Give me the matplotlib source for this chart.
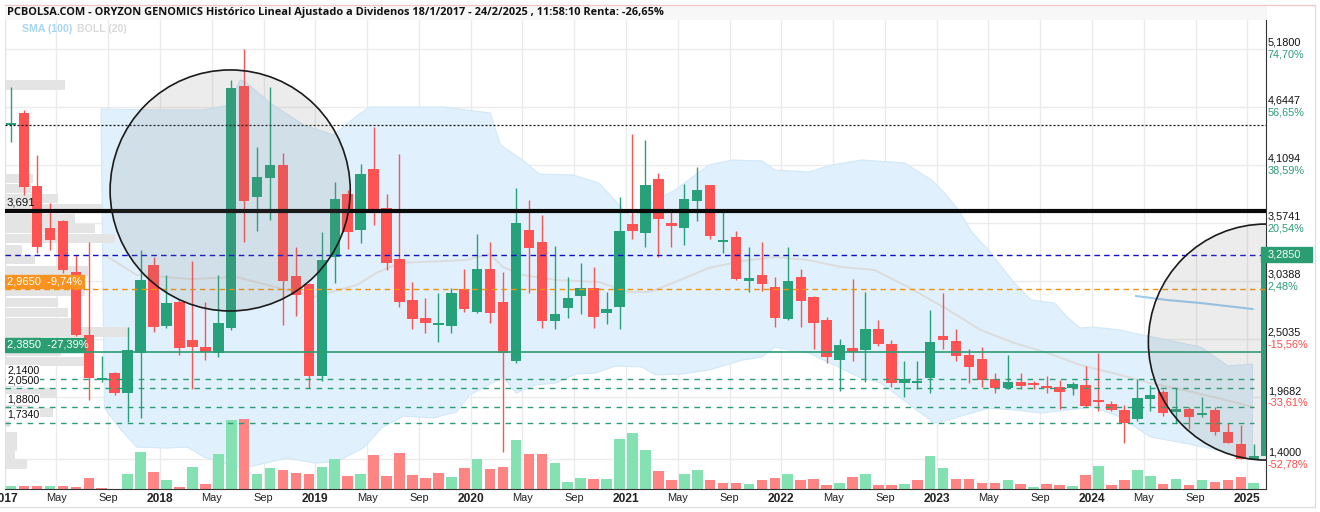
import numpy as np
import matplotlib.pyplot as plt
from matplotlib.patches import Rectangle, Ellipse
from matplotlib.transforms import blended_transform_factory

plt.rcParams['font.family'] = ['Liberation Sans', 'DejaVu Sans']

# monthly candles, Jan 2017 .. Feb 2025 (the last one is cut by the price axis)
opens = [4.48, 4.595, 3.921, 3.531, 3.595, 3.127, 2.546, 2.13, 2.190, 2.005,
         2.374, 3.189, 2.626, 2.850, 2.497, 2.435, 2.374, 2.605, 4.844, 3.819,
         3.995, 4.112, 3.088, 3.014, 2.168, 3.266, 3.844, 3.512, 4.075, 3.718,
         3.245, 2.866, 2.700, 2.640, 2.629, 2.965, 2.755, 3.149, 2.848, 2.306,
         3.512, 3.399, 2.675, 2.795, 2.906, 2.974, 2.749, 2.799, 3.568, 3.487,
         3.983, 3.574, 3.533, 3.783, 3.928, 3.40, 3.451, 3.042, 3.097, 2.989,
         2.694, 3.081, 2.894, 2.681, 2.312, 2.426, 2.405, 2.598, 2.460, 2.103,
         2.097, 2.149, 2.534, 2.488, 2.356, 2.321, 2.134, 2.051, 2.109, 2.103,
         2.075, 2.066, 2.051, 2.081, 1.934, 1.906, 1.848, 1.768, 1.955, 2.020,
         1.835, 1.860, 1.805, 1.851, 1.645, 1.537, 1.400, 1.43]
highs = [4.835, 4.62, 4.204, 3.759, 3.60, 3.285, 3.404, 2.349, 2.20, 2.614,
         3.328, 3.266, 3.097, 2.866, 3.229, 2.850, 3.097, 4.897, 5.180, 4.281,
         4.835, 4.220, 3.358, 3.020, 3.497, 3.952, 3.881, 4.121, 4.466, 3.844,
         4.214, 3.035, 2.882, 2.928, 2.974, 3.149, 3.472, 3.399, 3.124, 3.897,
         3.789, 3.650, 3.364, 3.078, 3.205, 3.174, 2.940, 3.814, 4.398, 4.343,
         4.036, 3.687, 3.937, 4.096, 3.930, 3.69, 3.503, 3.358, 3.399, 3.081,
         3.358, 3.152, 2.900, 2.709, 2.506, 3.057, 2.937, 2.681, 2.497, 2.303,
         2.303, 2.774, 2.931, 2.596, 2.414, 2.430, 2.190, 2.356, 2.190, 2.118,
         2.167, 2.128, 2.110, 2.257, 2.380, 1.934, 1.894, 2.137, 2.081, 2.035,
         2.057, 1.880, 1.968, 1.876, 1.728, 1.712, 1.537, 3.285]
lows = [4.327, 3.835, 3.302, 3.327, 3.115, 2.530, 1.943, 2.112, 1.990, 1.743,
        1.780, 2.574, 2.605, 2.358, 2.042, 2.312, 2.343, 2.589, 3.399, 3.506,
        3.604, 2.635, 2.717, 2.057, 2.122, 3.026, 3.334, 3.395, 3.558, 3.143,
        2.799, 2.598, 2.558, 2.475, 2.558, 2.758, 2.749, 2.651, 1.466, 2.282,
        2.933, 2.610, 2.601, 2.697, 2.734, 2.610, 2.644, 2.601, 3.426, 3.358,
        3.266, 3.358, 3.374, 3.598, 3.426, 3.297, 3.050, 2.943, 2.952, 2.619,
        2.681, 2.619, 2.417, 2.287, 2.029, 2.306, 2.112, 2.444, 2.066, 1.973,
        2.042, 2.005, 2.417, 2.306, 2.097, 2.066, 2.010, 2.047, 2.047, 2.042,
        2.005, 1.857, 1.989, 1.881, 1.844, 1.840, 1.549, 1.752, 1.844, 1.798,
        1.728, 1.675, 1.789, 1.620, 1.543, 1.397, 1.397, 1.42]
closes = [4.50, 3.906, 3.352, 3.420, 3.143, 2.541, 2.149, 2.14, 2.010, 2.405,
          3.050, 2.620, 2.841, 2.420, 2.435, 2.389, 2.656, 4.826, 3.780, 4.004,
          4.112, 3.044, 2.912, 2.168, 3.235, 3.799, 3.496, 4.029, 3.681, 3.210,
          2.850, 2.691, 2.657, 2.649, 2.933, 2.786, 3.149, 2.749, 2.374, 3.574,
          3.349, 2.675, 2.737, 2.884, 2.977, 2.712, 2.783, 3.503, 3.506, 3.928,
          3.614, 3.552, 3.798, 3.881, 3.460, 3.42, 3.060, 3.065, 3.014, 2.703,
          3.042, 2.859, 2.657, 2.343, 2.450, 2.383, 2.598, 2.460, 2.103, 2.134,
          2.118, 2.481, 2.500, 2.352, 2.245, 2.125, 2.051, 2.106, 2.072, 2.081,
          2.051, 2.017, 2.091, 1.890, 1.925, 1.851, 1.728, 1.959, 1.989, 1.826,
          1.860, 1.789, 1.820, 1.651, 1.549, 1.400, 1.428, 3.285]
volumes = [30, 30, 30, 30, 30, 23, 110, 10, 3, 150,
           370, 170, 90, 23, 223, 50, 350, 693, 700, 150,
           213, 190, 160, 150, 223, 303, 133, 150, 343, 133,
           360, 140, 110, 163, 120, 213, 303, 203, 223, 493,
           353, 353, 263, 73, 113, 103, 103, 503, 563, 393,
           183, 87, 153, 193, 93, 63, 63, 50, 87, 110,
           153, 87, 103, 43, 63, 123, 153, 43, 43, 53,
           93, 327, 213, 103, 103, 63, 63, 93, 53, 20,
           53, 43, 33, 143, 233, 43, 87, 187, 133, 53,
           103, 43, 93, 73, 93, 123, 63, 0]
first_year = 2017

# indicators (x = candle index)
boll_up_x = [6.95, 11.0, 14.9, 16.8, 17.7, 18.2, 20.0, 22.6, 24.9, 26.8, 27.7, 33.4, 37.0, 37.8,
             39.5, 40.8, 43.4, 45.4, 47.4, 48.0, 49.8, 51.3, 53.9, 55.7, 58.0, 59.0, 61.6, 63.4,
             65.7, 69.0, 71.1, 72.1, 73.2, 74.2, 75.5, 77.5, 78.8, 80.6, 81.6, 82.6, 83.6, 85.7,
             86.7, 89.3, 91.9, 94.0, 95.9]
boll_up = [4.629, 4.62, 4.62, 4.665, 4.897, 4.869, 4.684, 4.481, 4.389, 4.574, 4.647, 4.647, 4.592, 4.297,
           4.158, 4.029, 4.020, 3.946, 3.688, 3.623, 3.789, 3.881, 4.112, 4.158, 4.149, 4.066, 4.047, 4.112,
           4.158, 4.131, 3.974, 3.854, 3.697, 3.494, 3.328, 3.023, 2.866, 2.838, 2.709, 2.607, 2.617, 2.589,
           2.561, 2.497, 2.432, 2.257, 2.275]
boll_lo_x = [6.95, 7.2, 7.9, 8.5, 9.7, 12.0, 13.6, 14.9, 17.4, 18.7, 21.3, 23.4, 25.1, 27.2, 28.7,
             30.3, 32.6, 34.4, 35.4, 38.0, 39.0, 40.5, 42.1, 43.6, 45.1, 46.7, 48.7, 49.8, 51.8,
             53.9, 56.5, 58.0, 59.0, 60.1, 61.6, 63.6, 65.5, 67.2, 71.3, 72.4, 75.5, 77.5, 79.6,
             81.6, 83.6, 85.7, 88.0, 90.6, 93.2, 95.9]
boll_lo = [4.5, 1.869, 1.759, 1.666, 1.509, 1.500, 1.509, 1.417, 1.325, 1.334, 1.408, 1.362, 1.371, 1.500, 1.694,
           1.795, 1.777, 1.832, 1.989, 2.154, 2.008, 2.082, 2.100, 2.183, 2.192, 2.257, 2.248, 2.174, 2.183,
           2.220, 2.312, 2.340, 2.432, 2.405, 2.377, 2.266, 2.155, 2.100, 1.731, 1.759, 1.869, 1.851, 1.823,
           1.851, 1.879, 1.786, 1.602, 1.546, 1.482, 1.417]
boll_mid_x = [7.2, 9.7, 13.9, 17.4, 23.4, 26.7, 28.2, 30.0, 35.1, 37.0, 38.0, 39.5, 42.1, 45.4, 47.7,
              49.3, 51.3, 53.9, 56.5, 59.0, 61.6, 64.1, 66.7, 69.3, 72.4, 74.9, 77.5, 80.1, 82.6,
              85.7, 88.0, 90.6, 93.2, 95.9]
boll_mid = [3.282, 3.097, 3.060, 3.078, 2.894, 3.005, 3.115, 3.208, 3.235, 3.291, 3.171, 3.097, 3.051, 3.032, 2.940,
            2.940, 3.032, 3.162, 3.226, 3.263, 3.235, 3.171, 3.143, 2.986, 2.774, 2.589, 2.469, 2.377, 2.266,
            2.174, 2.100, 2.035, 1.962, 1.879]
sma_x = [86.9, 89.3, 91.9, 95.9]
sma = [2.903, 2.866, 2.838, 2.783]

# volume profile on the left edge
prof_price = [4.850, 3.985, 3.892, 3.800, 3.708, 3.615, 3.523, 3.431, 3.329, 3.237,
              3.135, 3.043, 2.942, 2.840, 2.748, 2.655, 2.572, 2.480, 2.388, 2.296,
              2.203, 2.102, 2.009, 1.926, 1.825, 1.733, 1.603, 1.520, 1.446, 1.354]
prof_vol = [60, 28, 26, 53, 97, 70, 90, 110, 17, 30,
            83, 28, 80, 53, 63, 72, 125, 36, 56, 80,
            8, 20, 52, 25, 48, 5, 12, 12, 10, 22]

# price axis
tick_prices = [5.18, 4.6447, 4.1094, 3.5741, 3.0388, 2.5035, 1.9682, 1.40]
tick_labels = ['5,1800', '4,6447', '4,1094', '3,5741', '3,0388', '2,5035', '1,9682', '1,4000']
tick_pcts = ['74,70%', '56,65%', '38,59%', '20,54%', '2,48%', '-15,56%', '-33,61%', '-52,78%']

ref_price = 2.965
last_price = 3.285
support_levels = [2.14, 2.05, 1.88, 1.734]
support_labels = ['2,1400', '2,0500', '1,8800', '1,7340']

GREEN = '#26a17a'
RED = '#ff5252'
LINE_GREEN = '#2a9d73'

W, H = 1320, 512
fig = plt.figure(figsize=(W / 100, H / 100), dpi=100)
px_l, px_r, px_t, px_b = 4.7, 1266, 20, 489
ax = fig.add_axes([px_l / W, 1 - px_b / H, (px_r - px_l) / W, (px_b - px_t) / H])
ax_w = px_r - px_l
step = 12.99  # pixels per month

n = len(closes)
idx = np.arange(n)
o = np.array(opens); c = np.array(closes); hi = np.array(highs); lo = np.array(lows)
up = c >= o

ax.set_xlim(-(6.7 - px_l) / step, (px_r - 6.7) / step)
ax.set_ylim(1.122, 5.450)

yx = blended_transform_factory(ax.transAxes, ax.transData)   # x axes-frac, y data
xy = blended_transform_factory(ax.transData, ax.transAxes)   # x data, y axes-frac

# grid
grid_pos, grid_lab = [], []
for k in range(0, 97, 4):
    grid_pos.append(k - 0.5)
    m = k % 12
    grid_lab.append(str(first_year + k // 12) if m == 0 else ('May' if m == 4 else 'Sep'))
ax.set_xticks(grid_pos, grid_lab)
ax.set_yticks(tick_prices)
ax.grid(True, color='#ebebeb', lw=1, zorder=0)
ax.set_axisbelow(True)
ax.tick_params(length=0, labelleft=False, pad=3, labelsize=7.9, labelcolor='#222')
for t in ax.get_xticklabels():
    if t.get_text().isdigit():
        t.set_fontweight('bold')
        t.set_fontsize(8.6)
ax.spines['top'].set_visible(False)
ax.spines['left'].set_color('#e2e2e2')
ax.spines['bottom'].set_color('#333333')
ax.spines['right'].set_color('#333333')

# bollinger band
band_x = np.r_[boll_up_x, boll_lo_x[::-1]]
band_y = np.r_[boll_up, boll_lo[::-1]]
ax.fill(band_x, band_y, color='#e0f0fc', ec='#d2e8f8', lw=0.8, zorder=1)
ax.plot(boll_mid_x, boll_mid, color='#dcdcdc', lw=1.4, zorder=2)
ax.plot(sma_x, sma, color='#9ccbf0', lw=1.5, zorder=2)

# volume profile
ax.barh(prof_price, np.array(prof_vol) / ax_w, height=0.086, left=0, color='#e4e4e4',
        transform=yx, zorder=1.5)

# volume bars
vol_up = np.r_[True, c[1:] >= c[:-1]]
ax.bar(idx, np.array(volumes) / 4690, width=0.82, bottom=0, transform=xy,
       color=np.where(vol_up, '#84e1b2', '#ff8585'), zorder=2)

# candles
cols = np.where(up, GREEN, RED)
ax.vlines(idx, lo, hi, colors=cols, lw=1.0, zorder=3)
ax.bar(idx, np.maximum(np.abs(c - o), 0.018), bottom=np.minimum(o, c), width=0.81,
       color=cols, zorder=3)

# horizontal reference lines
ax.axhline(4.479, color='#111111', lw=0.9, ls=(0, (1.6, 1.6)), zorder=4)
ax.axhline(3.691, color='#0a0a0a', lw=3.0, zorder=4)
ax.axhline(last_price, color='#1010c8', lw=1.0, ls=(0, (4, 3)), zorder=4)
ax.axhline(ref_price, color='#f0900c', lw=1.0, ls=(0, (4, 3)), zorder=4)
ax.axhline(2.385, color=LINE_GREEN, lw=1.2, zorder=4)
ax.hlines(support_levels, ax.get_xlim()[0], 96.0, colors=LINE_GREEN, lw=1.0,
          linestyles=[(0, (4, 4))], zorder=4)

# circles
ax.add_patch(Ellipse((16.92, 3.877), 2 * 120.5 / step, 2 * 120.5 / 108.35,
                     fc=(0.5, 0.5, 0.5, 0.15), ec='#1a1a1a', lw=1.2, zorder=5))
ax.add_patch(Ellipse((96.94, 2.478), 2 * 118 / step, 2 * 118 / 108.35,
                     fc=(0.5, 0.5, 0.5, 0.15), ec='#1a1a1a', lw=1.2, zorder=5))

# left labels
lx = 2.3 / ax_w
ax.text(lx, 3.691 + 0.03, '3,691', transform=yx, fontsize=8.2, color='#111', va='bottom', zorder=6)
ax.add_patch(Rectangle((0, ref_price + 0.01), 79.5 / ax_w, 0.123, transform=yx,
                       color='#f7931e', zorder=6))
ax.text(lx, ref_price + 0.07, '2,9650  -9,74%', transform=yx, fontsize=8.0, color='white',
        va='center', zorder=7)
ax.add_patch(Rectangle((0, 2.387), 80.5 / ax_w, 0.128, transform=yx,
                       color=LINE_GREEN, zorder=6))
ax.text(lx, 2.387 + 0.064, '2,3850  -27,39%', transform=yx, fontsize=8.0, color='white',
        va='center', zorder=7)
for lev, lab in zip(support_levels, support_labels):
    ax.text(lx, lev + 0.025, lab, transform=yx, fontsize=7.7, color='#111', va='bottom', zorder=6,
            bbox=dict(fc='white', ec='none', pad=0.4))

# right axis labels
rx = 1 + 2.0 / ax_w
for p, lab, pct in zip(tick_prices, tick_labels, tick_pcts):
    ax.text(rx, p + 0.012, lab, transform=yx, fontsize=7.8, color='#111', va='bottom',
            clip_on=False)
    ax.text(rx, p - 0.004, pct, transform=yx, fontsize=7.8, va='top', clip_on=False,
            color=LINE_GREEN if not pct.startswith('-') else '#ff4a4a')
ax.add_patch(Rectangle((1 - 5 / ax_w, last_price - 0.067), 51 / ax_w, 0.134, transform=yx,
                       color=LINE_GREEN, clip_on=False, zorder=6))
ax.text(rx, last_price, '3,2850', transform=yx, fontsize=7.9, color='white', va='center',
        clip_on=False, zorder=7)

# header
fig.add_artist(Rectangle((5 / W, 1 - 19.7 / H), (1266 - 5) / W, 14.5 / H,
                         transform=fig.transFigure, color='#f7f7f7', zorder=0))
fig.add_artist(plt.Line2D([5 / W, 1315 / W], [1 - 4.7 / H] * 2, transform=fig.transFigure,
                          color='#f0c6c6', lw=0.9))
fig.add_artist(plt.Line2D([1315 / W, 1315 / W], [1 - 4.7 / H, 1 - 507 / H], transform=fig.transFigure,
                          color='#dddddd', lw=0.9))
fig.add_artist(plt.Line2D([0, 1315 / W], [1 - 507 / H] * 2, transform=fig.transFigure,
                          color='#dddddd', lw=0.9))
fig.text(7 / W, 1 - 12.3 / H,
         'PCBOLSA.COM - ORYZON GENOMICS Histórico Lineal Ajustado a Dividenos 18/1/2017 - 24/2/2025 , 11:58:10 Renta: -26,65%',
         family=['Open Sans', 'DejaVu Sans'], fontweight='bold', fontsize=7.95, color='#111', va='center')
fig.text(22 / W, 1 - 28.5 / H, 'SMA (100)', fontweight='bold', fontsize=7.6, color='#a9d5f5', va='center')
fig.text(77 / W, 1 - 28.5 / H, 'BOLL (20)', fontweight='bold', fontsize=7.6, color='#d9d9d9', va='center')

fig.savefig('out.png', dpi=100)
